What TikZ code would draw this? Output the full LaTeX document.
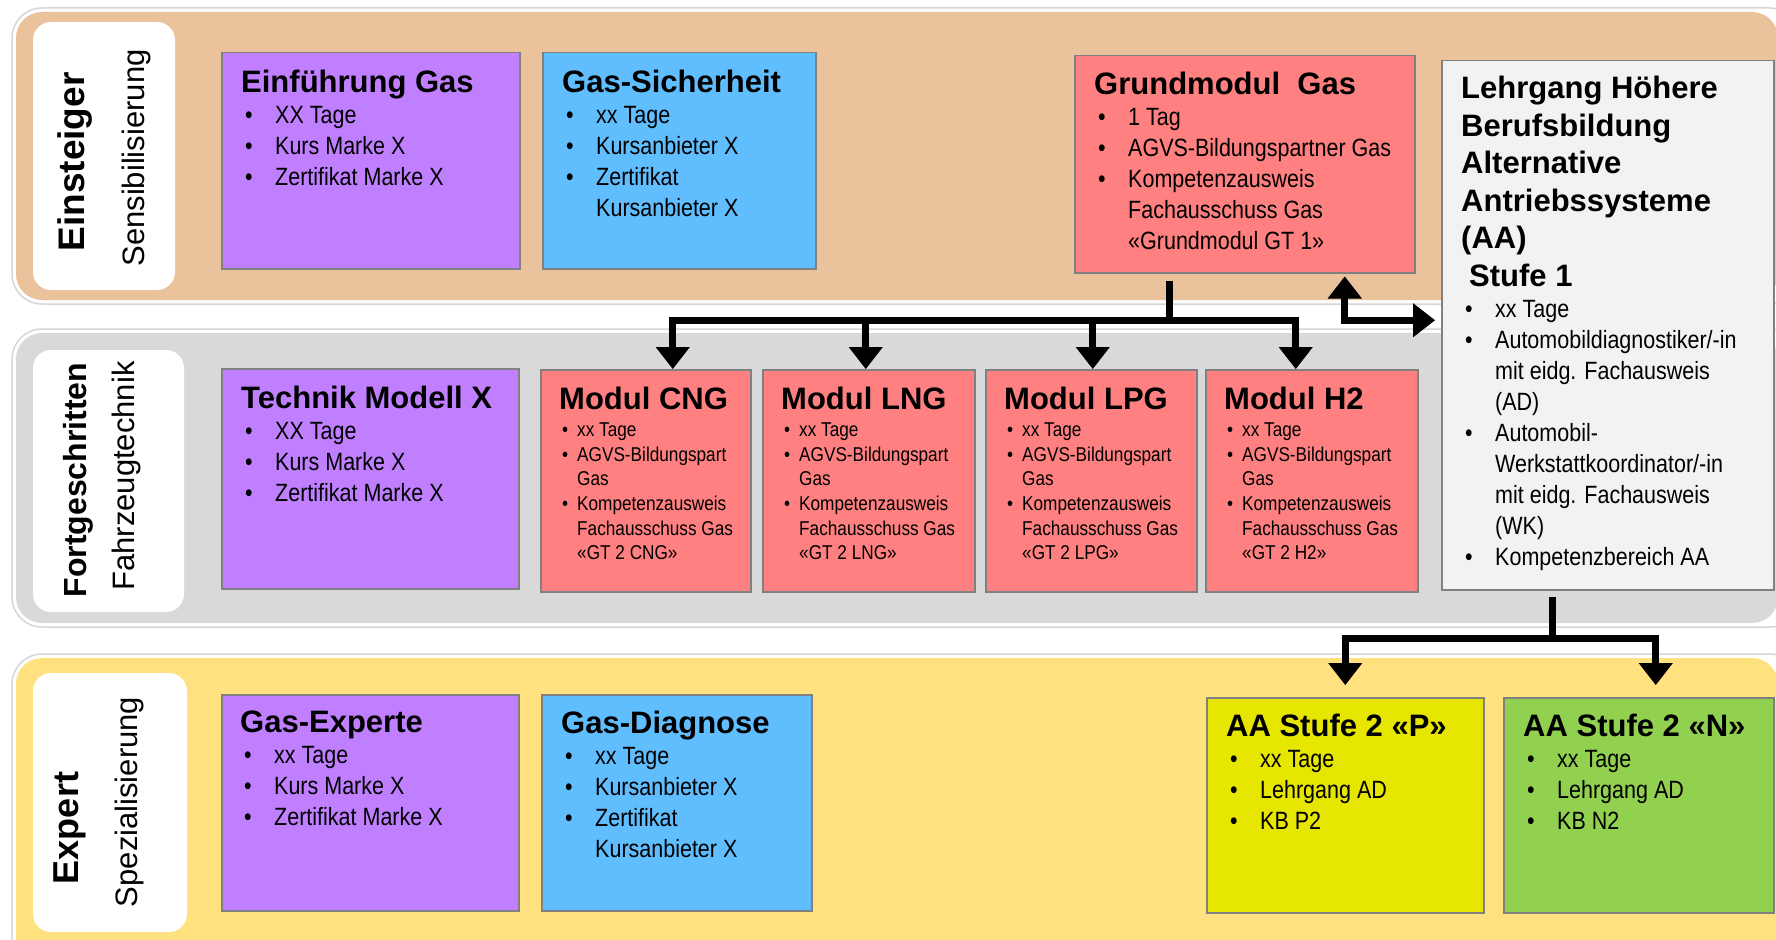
\documentclass[tikz,border=0pt]{standalone}
\usepackage{fontspec}
\setmainfont{Liberation Sans}
\newfontfamily\narrowsf[FakeStretch=0.86]{Liberation Sans}
\usetikzlibrary{arrows.meta}
\definecolor{einst}{RGB}{234,194,155}
\definecolor{fortg}{RGB}{217,217,217}
\definecolor{expert}{RGB}{255,225,128}
\definecolor{lila}{RGB}{191,127,255}
\definecolor{hblau}{RGB}{96,190,255}
\definecolor{lachs}{RGB}{255,128,128}
\definecolor{hgrau}{RGB}{242,242,242}
\definecolor{gelb}{RGB}{230,230,0}
\definecolor{gruen}{RGB}{146,208,80}
\definecolor{rand}{RGB}{128,128,128}
\setlength\parindent{0pt}
\newcommand\ttl{\spaceskip=0pt\xspaceskip=0pt\bfseries\fontsize{31}{37.5}\selectfont}
\newcommand\bdy{\narrowsf\mdseries\fontsize{25}{31}\selectfont}
\newcommand\kbdy{\narrowsf\mdseries\fontsize{20}{24.7}\selectfont}
\newcommand\pkt{\hspace*{4pt}\makebox[30pt][l]{\textbullet}}
\newcommand\wtr{\hspace*{34pt}}
\newcommand\kpkt{\hspace*{3pt}\makebox[15pt][l]{\textbullet}}
\newcommand\kwtr{\hspace*{18pt}}
\begin{document}
\begin{tikzpicture}[x=1pt,y=-1pt,>={Triangle[width=34pt,length=22pt,line width=1pt]},
    box/.style={draw=rand,line width=1.5pt,anchor=north west,inner sep=0pt},
    txt/.style={anchor=north west,inner sep=0pt,align=flush left,text width=320pt},
    lvl/.style={rotate=90,inner sep=0pt,font=\bfseries\fontsize{#1}{#1}\selectfont},
    sub/.style={rotate=90,inner sep=0pt,font=\fontsize{31}{34}\selectfont},
    band/.style={rounded corners=26pt},
    rahmen/.style={draw=black!16,line width=1.5pt,rounded corners=30pt},
    pfeil/.style={line width=7pt}]
    \clip (0,0) rectangle (1776,939);
    \fill[white] (0,0) rectangle (1776,939);
    \draw[rahmen] (12,8) rectangle (1800,304);
    \fill[band,einst] (16,12) rectangle (1778,300);
    \draw[rahmen] (12,329) rectangle (1800,627);
    \fill[band,fortg] (16,333) rectangle (1778,623);
    \draw[rahmen] (12,654) rectangle (1800,990);
    \fill[band,expert] (16,658) rectangle (1778,990);
    \fill[white,rounded corners=18pt] (33,22) rectangle (175,290);
    \fill[white,rounded corners=18pt] (33,350) rectangle (184,612);
    \fill[white,rounded corners=18pt] (33,673) rectangle (187,932);
    \node[lvl=37] (einst-l) at (75,162) {Einsteiger};
    \node[sub] (einst-s) at (136,158) {Sensibilisierung};
    \node[lvl=32] (fortg-l) at (78,480) {Fortgeschritten};
    \node[sub] (fortg-s) at (126,476) {Fahrzeugtechnik};
    \node[lvl=36] (expert-l) at (70,828) {Expert};
    \node[sub] (expert-s) at (129,802) {Spezialisierung};
    \node[box,fill=lila,minimum width=298pt,minimum height=216pt] (einf) at (221,52) {};
    \node[txt] (einf-t) at ([shift={(20,18)}]einf.north west) {\ttl Einführung Gas\par\bdy\pkt XX Tage\\\pkt Kurs Marke X\\\pkt Zertifikat Marke X\par};
    \node[box,fill=hblau,minimum width=273pt,minimum height=216pt] (sich) at (542,52) {};
    \node[txt] (sich-t) at ([shift={(20,18)}]sich.north west) {\ttl Gas-Sicherheit\par\bdy\pkt xx Tage\\\pkt Kursanbieter X\\\pkt Zertifikat\\\wtr Kursanbieter X\par};
    \node[box,fill=lachs,minimum width=340pt,minimum height=217pt] (grund) at (1074,55) {};
    \node[txt] (grund-t) at ([shift={(20,17)}]grund.north west) {\ttl Grundmodul\ \ Gas\par\bdy\pkt 1 Tag\\\pkt AGVS-Bildungspartner Gas\\\pkt Kompetenzausweis\\\wtr Fachausschuss Gas\\\wtr «Grundmodul GT 1»\par};
    \node[box,fill=hgrau,minimum width=332pt,minimum height=529pt] (lehr) at (1441,60) {};
    \node[txt] (lehr-t) at ([shift={(20,16)}]lehr.north west) {\ttl Lehrgang Höhere\\Berufsbildung\\Alternative\\Antriebssysteme\\(AA)\\\hspace*{8pt}Stufe 1\par\bdy\pkt xx Tage\\\pkt Automobildiagnostiker/-in\\\wtr mit eidg. Fachausweis\\\wtr (AD)\\\pkt Automobil-\\\wtr Werkstattkoordinator/-in\\\wtr mit eidg. Fachausweis\\\wtr (WK)\\\pkt Kompetenzbereich AA\par};
    \node[box,fill=lila,minimum width=297pt,minimum height=220pt] (technik) at (221,368) {};
    \node[txt] (technik-t) at ([shift={(20,18)}]technik.north west) {\ttl Technik Modell X\par\bdy\pkt XX Tage\\\pkt Kurs Marke X\\\pkt Zertifikat Marke X\par};
    \node[box,fill=lachs,minimum width=210pt,minimum height=222pt] (cng) at (540,369) {};
    \node[txt] (cng-t) at ([shift={(19,18)}]cng.north west) {\ttl Modul CNG\par\vspace{2pt}\kbdy\kpkt xx Tage\\\kpkt AGVS-Bildungspart\\\kwtr Gas\\\kpkt Kompetenzausweis\\\kwtr Fachausschuss Gas\\\kwtr «GT 2 CNG»\par};
    \node[box,fill=lachs,minimum width=212pt,minimum height=222pt] (lng) at (762,369) {};
    \node[txt] (lng-t) at ([shift={(19,18)}]lng.north west) {\ttl Modul LNG\par\vspace{2pt}\kbdy\kpkt xx Tage\\\kpkt AGVS-Bildungspart\\\kwtr Gas\\\kpkt Kompetenzausweis\\\kwtr Fachausschuss Gas\\\kwtr «GT 2 LNG»\par};
    \node[box,fill=lachs,minimum width=211pt,minimum height=222pt] (lpg) at (985,369) {};
    \node[txt] (lpg-t) at ([shift={(19,18)}]lpg.north west) {\ttl Modul LPG\par\vspace{2pt}\kbdy\kpkt xx Tage\\\kpkt AGVS-Bildungspart\\\kwtr Gas\\\kpkt Kompetenzausweis\\\kwtr Fachausschuss Gas\\\kwtr «GT 2 LPG»\par};
    \node[box,fill=lachs,minimum width=212pt,minimum height=222pt] (h2) at (1205,369) {};
    \node[txt] (h2-t) at ([shift={(19,18)}]h2.north west) {\ttl Modul H2\par\vspace{2pt}\kbdy\kpkt xx Tage\\\kpkt AGVS-Bildungspart\\\kwtr Gas\\\kpkt Kompetenzausweis\\\kwtr Fachausschuss Gas\\\kwtr «GT 2 H2»\par};
    \node[box,fill=lila,minimum width=297pt,minimum height=216pt] (exp) at (221,694) {};
    \node[txt] (exp-t) at ([shift={(19,17)}]exp.north west) {\ttl Gas-Experte\par\bdy\pkt xx Tage\\\pkt Kurs Marke X\\\pkt Zertifikat Marke X\par};
    \node[box,fill=hblau,minimum width=270pt,minimum height=216pt] (diag) at (541,694) {};
    \node[txt] (diag-t) at ([shift={(20,17)}]diag.north west) {\ttl Gas-Diagnose\par\bdy\pkt xx Tage\\\pkt Kursanbieter X\\\pkt Zertifikat\\\wtr Kursanbieter X\par};
    \node[box,fill=gelb,minimum width=277pt,minimum height=215pt] (aap) at (1206,697) {};
    \node[txt] (aap-t) at ([shift={(20,17)}]aap.north west) {\ttl AA Stufe 2 «P»\par\bdy\pkt xx Tage\\\pkt Lehrgang AD\\\pkt KB P2\par};
    \node[box,fill=gruen,minimum width=270pt,minimum height=215pt] (aan) at (1503,697) {};
    \node[txt] (aan-t) at ([shift={(20,17)}]aan.north west) {\ttl AA Stufe 2 «N»\par\bdy\pkt xx Tage\\\pkt Lehrgang AD\\\pkt KB N2\par};
    \draw[pfeil] ([xshift=-75pt,yshift=-7pt]grund.south) -- ++(0,40) coordinate (hub);
    \foreach \m/\dx in {cng/27,lng/-3,lpg/1.5,h2/-16}
        \draw[pfeil,->] (hub) -| ([xshift=\dx pt]\m.north);
    \draw[pfeil,<->] ([xshift=100pt,yshift=-3pt]grund.south) |- ([xshift=-6pt,yshift=5pt]lehr.west);
    \draw[pfeil] ([xshift=-55pt,yshift=-6pt]lehr.south) -- ++(0,42) coordinate (hub2);
    \draw[pfeil,->] (hub2) -| ([yshift=12pt]aap.north);
    \draw[pfeil,->] (hub2) -| ([xshift=17pt,yshift=12pt]aan.north);
\end{tikzpicture}
\end{document}
